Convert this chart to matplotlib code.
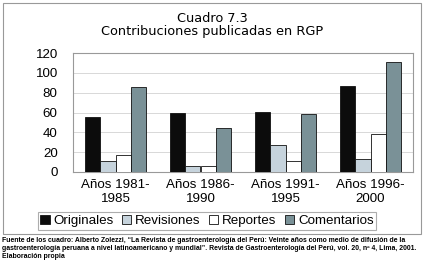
import numpy as np
import matplotlib.pyplot as plt
from matplotlib.patches import Rectangle

plt.rcParams['font.family'] = ['Liberation Sans', 'DejaVu Sans']

periods = ["Años 1981-\n1985", "Años 1986-\n1990", "Años 1991-\n1995", "Años 1996-\n2000"]
series = ["Originales", "Revisiones", "Reportes", "Comentarios"]
originales = [55, 59, 61, 87]
revisiones = [11, 6, 27, 13]
reportes = [17, 6, 11, 38]
comentarios = [86, 44, 58, 111]
colors = ["#0c0c0c", "#c6d3dc", "#ffffff", "#7a9197"]

fig = plt.figure(figsize=(4.25, 2.66), dpi=100)
ax = fig.add_axes([73 / 425, 1 - 172 / 266, 340 / 425, 119 / 266])

x = np.arange(len(periods))
w = 0.18
for i, (vals, c) in enumerate(zip([originales, revisiones, reportes, comentarios], colors)):
    ax.bar(x + (i - 1.5) * w, vals, w, color=c, edgecolor="#111111", linewidth=0.6,
           label=series[i], zorder=3)

ax.set_xlim(-0.5, 3.5)
ax.set_ylim(0, 120)
ax.set_yticks(range(0, 121, 20))
ax.set_xticks(x)
ax.set_xticklabels(periods, fontsize=9.6, linespacing=1.25)
ax.tick_params(axis='y', labelsize=9.6, length=0, pad=11)
ax.tick_params(axis='x', length=0, pad=5)
ax.grid(axis='y', color="#d8d8d8", linewidth=0.7, zorder=0)
for s in ax.spines.values():
    s.set_color("#999999")
    s.set_linewidth(0.8)

fig.text(0.5, 1 - 18 / 266, "Cuadro 7.3", ha='center', va='center', fontsize=9.3,
         family='DejaVu Sans')
fig.text(0.5, 1 - 31 / 266, "Contribuciones publicadas en RGP", ha='center', va='center',
         fontsize=9.3, family='DejaVu Sans')

leg = fig.legend(loc='center', bbox_to_anchor=(207 / 425, 1 - 221 / 266), ncol=4, fontsize=9.6,
                 frameon=True, fancybox=False, edgecolor="#999999", handlelength=0.7,
                 handleheight=0.7, handletextpad=0.3, columnspacing=0.6, borderpad=0.2)
leg.get_frame().set_linewidth(0.8)

# outer box around the chart
fig.patches.append(Rectangle((3 / 425, 1 - 234 / 266), 418 / 425, 231 / 266, transform=fig.transFigure,
                             fill=False, edgecolor="#999999", linewidth=0.8))

note = ("Fuente de los cuadro: Alberto Zolezzi, \u201cLa Revista de gastroenterología del Perú: Veinte años como medio de difusión de la\n"
        "gastroenterología peruana a nivel latinoamericano y mundial\u201d. Revista de Gastroenterología del Perú, vol. 20, nº 4, Lima, 2001.\n"
        "Elaboración propia")
fig.text(2 / 425, 1 - 237 / 266, note, ha='left', va='top', fontsize=4.95, fontweight='bold', linespacing=1.2)

fig.savefig("out.png", dpi=100)
